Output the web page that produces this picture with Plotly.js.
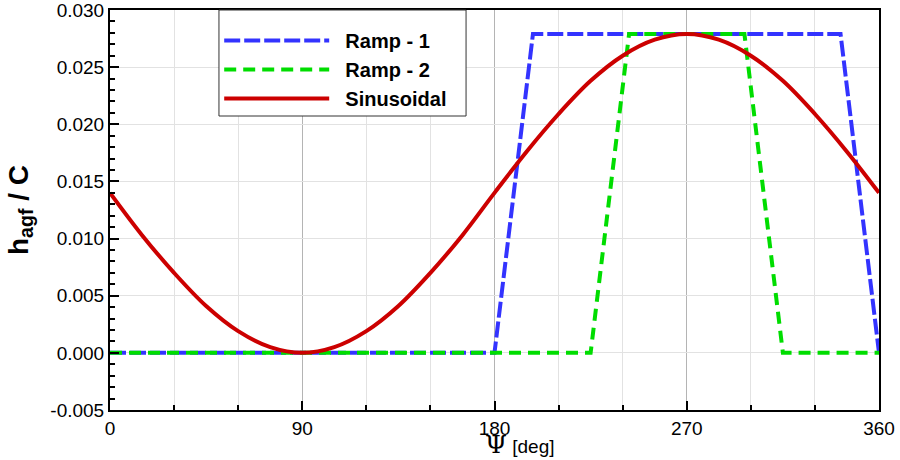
<!DOCTYPE html>
<html>
<head>
<meta charset="utf-8">
<script src="https://cdn.plot.ly/plotly-3.0.1.min.js"></script>
<style>
  body { margin: 0; background: #fff; }
  #chart { width: 900px; height: 460px; }
</style>
</head>
<body>
<div id="chart"></div>
<script>
// azimuth angle, deg
var psiRamp1 = [0, 180, 198, 342, 360];
var hRamp1   = [0, 0, 0.0279, 0.0279, 0];

var psiRamp2 = [0, 225, 243, 297, 315, 360];
var hRamp2   = [0, 0, 0.0279, 0.0279, 0, 0];

// values every 15 deg
var psiSin = [0, 15, 30, 45, 60, 75, 90, 105, 120, 135, 150, 165, 180,
              195, 210, 225, 240, 255, 270, 285, 300, 315, 330, 345, 360];
var hSin   = [0.0140, 0.0103, 0.0070, 0.0041, 0.0019, 0.0005, 0.0000, 0.0005, 0.0019, 0.0041, 0.0070, 0.0103, 0.0140,
              0.0176, 0.0209, 0.0238, 0.0260, 0.0274, 0.0279, 0.0274, 0.0260, 0.0238, 0.0209, 0.0176, 0.0140];

var seriesNames = ['Ramp - 1', 'Ramp - 2', 'Sinusoidal'];

var xTicks = [0, 90, 180, 270, 360];
var yTicks = [-0.005, 0, 0.005, 0.010, 0.015, 0.020, 0.025, 0.030];
var yTickText = ['-0.005', '0.000', '0.005', '0.010', '0.015', '0.020', '0.025', '0.030'];

// a little room between legend line and label
var pad = '\u00a0\u00a0';

var traces = [
  {
    x: psiRamp1, y: hRamp1, name: pad + seriesNames[0], mode: 'lines',
    line: {color: '#3333ff', width: 4, dash: '16px,4px'}
  },
  {
    x: psiRamp2, y: hRamp2, name: pad + seriesNames[1], mode: 'lines',
    line: {color: '#00dd00', width: 4, dash: '12px,7px'}
  },
  {
    x: psiSin, y: hSin, name: pad + seriesNames[2], mode: 'lines',
    line: {color: '#cc0000', width: 4, shape: 'spline'}
  }
];

var tickFont = {family: 'Liberation Sans, Arial, sans-serif', size: 19, color: '#000'};

var layout = {
  width: 900,
  height: 460,
  margin: {l: 110, r: 21, t: 10, b: 50},
  paper_bgcolor: '#fff',
  plot_bgcolor: '#fff',
  font: {family: 'Liberation Sans, Arial, sans-serif', size: 18, color: '#000'},
  showlegend: true,
  // legend frame drawn as a shape so it can be as roomy as the original
  shapes: [{
    type: 'rect', xref: 'paper', yref: 'paper',
    x0: 0.1417, x1: 0.463, y0: 0.735, y1: 1,
    line: {color: '#333', width: 1}, fillcolor: '#fff', layer: 'above'
  }],
  annotations: [{
    xref: 'paper', yref: 'paper', x: 0.533, y: -0.0875,
    xanchor: 'center', yanchor: 'middle', showarrow: false,
    text: '<span style="font-family:DejaVu Serif, serif;font-size:25px">Ψ</span> [deg]',
    font: {family: 'Liberation Sans, Arial, sans-serif', size: 19, color: '#000'}
  }],
  legend: {
    x: 0.142, y: 0.9725, xanchor: 'left', yanchor: 'top',
    bgcolor: 'rgba(0,0,0,0)', borderwidth: 0,
    font: {size: 20, color: '#000', weight: 'bold'},
    itemwidth: 105,
    tracegroupgap: 0
  },
  xaxis: {
    range: [0, 360],
    tickvals: xTicks,
    tickfont: tickFont,
    ticklabeloverflow: 'allow',
    ticks: 'inside', ticklen: 9, tickwidth: 2, tickcolor: '#000',
    showline: true, linecolor: '#000', linewidth: 2, mirror: true,
    showgrid: true, gridcolor: '#b4b4b4', gridwidth: 1,
    zeroline: false,
    minor: {dtick: 30, ticks: 'inside', ticklen: 5, tickcolor: '#000', showgrid: true, gridcolor: '#e2e2e2'}
  },
  yaxis: {
    range: [-0.005, 0.030],
    tickvals: yTicks,
    ticktext: yTickText,
    tickfont: tickFont,
    ticklabeloverflow: 'allow',
    ticks: 'inside', ticklen: 9, tickwidth: 2, tickcolor: '#000',
    showline: true, linecolor: '#000', linewidth: 2, mirror: true,
    showgrid: true, gridcolor: '#e2e2e2', gridwidth: 1,
    zeroline: false,
    minor: {dtick: 0.001, ticks: 'inside', ticklen: 5, tickcolor: '#000', showgrid: false},
    title: {text: '<b>h<sub>agf</sub> / C</b>', font: {size: 28}, standoff: 14}
  }
};

Plotly.newPlot('chart', traces, layout, {staticPlot: true});
</script>
</body>
</html>
